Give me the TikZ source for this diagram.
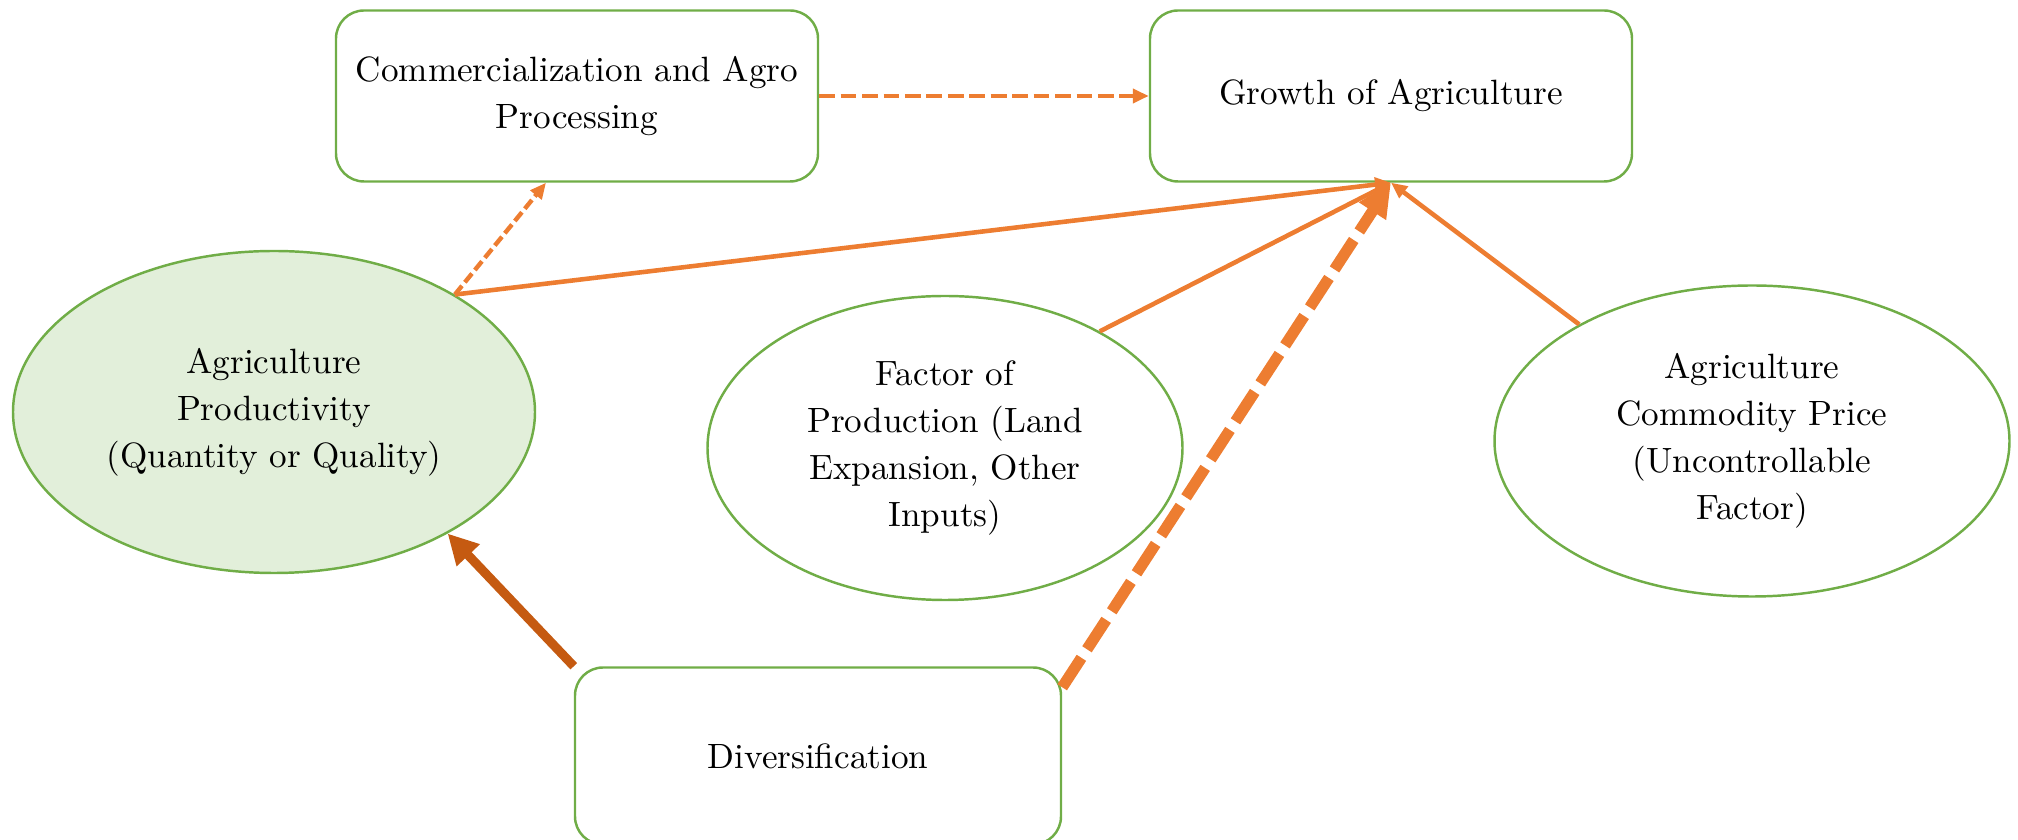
\documentclass[tikz,border=0pt]{standalone}
\usetikzlibrary{arrows.meta,shapes.geometric}
\definecolor{boxgreen}{HTML}{70AD47}
\definecolor{lightgreen}{HTML}{E2EFDA}
\definecolor{arrorange}{HTML}{ED7D31}
\definecolor{darkorange}{HTML}{C55A11}
\begin{document}
\begin{tikzpicture}[x=0.1mm,y=-0.1mm,
    font=\fontsize{10}{13.4}\selectfont,
    block/.style={draw=boxgreen,line width=0.7pt,rounded corners=2.8mm,minimum width=48.2mm,minimum height=17.1mm,align=center,inner sep=0pt},
    factor/.style={draw=boxgreen,line width=0.7pt,ellipse,align=center,inner sep=0pt},
    link/.style={color=arrorange,line width=1.3pt,-{Triangle[length=1.6mm,width=1.4mm]}}]
    \useasboundingbox (0,0) rectangle (2018,840);
    % boxes
    \node[block] (comm) at (577,96) {Commercialization and Agro\\Processing};
    \node[block] (grow) at (1391,96) {Growth of Agriculture};
    \node[block,minimum width=48.6mm,minimum height=17.7mm] (div) at (818,756) {Diversification};
    % ellipses
    \node[factor,fill=lightgreen,minimum width=52.2mm,minimum height=32.2mm] (prod) at (274,412) {Agriculture\\Productivity\\(Quantity or Quality)};
    \node[factor,minimum width=47.5mm,minimum height=30.4mm] (fac) at (945,448) {Factor of\\Production (Land\\Expansion, Other\\Inputs)};
    \node[factor,minimum width=51.5mm,minimum height=31.1mm] (com) at (1752,441) {Agriculture\\Commodity Price\\(Uncontrollable\\Factor)};
    % arrows
    \draw[link,dash pattern=on 4.5pt off 1.6pt] (comm) -- (grow);
    \draw[link,line width=1.25pt,dash pattern=on 3.2pt off 1.3pt,-{Triangle[length=1.6mm,width=1.4mm]}] (prod.33) -- ([xshift=-3.1mm]comm.south);
    \draw[link] (prod.33) -- (grow.south);
    \draw[link] (fac.37) -- (grow.south);
    \draw[link] (com.146) -- (grow.south);
    \draw[link,line width=3.2pt,dash pattern=on 10pt off 2.9pt,-{Triangle[length=3.4mm,width=3mm]}] ([yshift=-2.1mm]div.north east) -- (grow.south);
    \draw[link,color=darkorange,line width=2.6pt,-{Triangle[length=3mm,width=3mm]}] (div.north west) -- (prod.-35);
\end{tikzpicture}
\end{document}
